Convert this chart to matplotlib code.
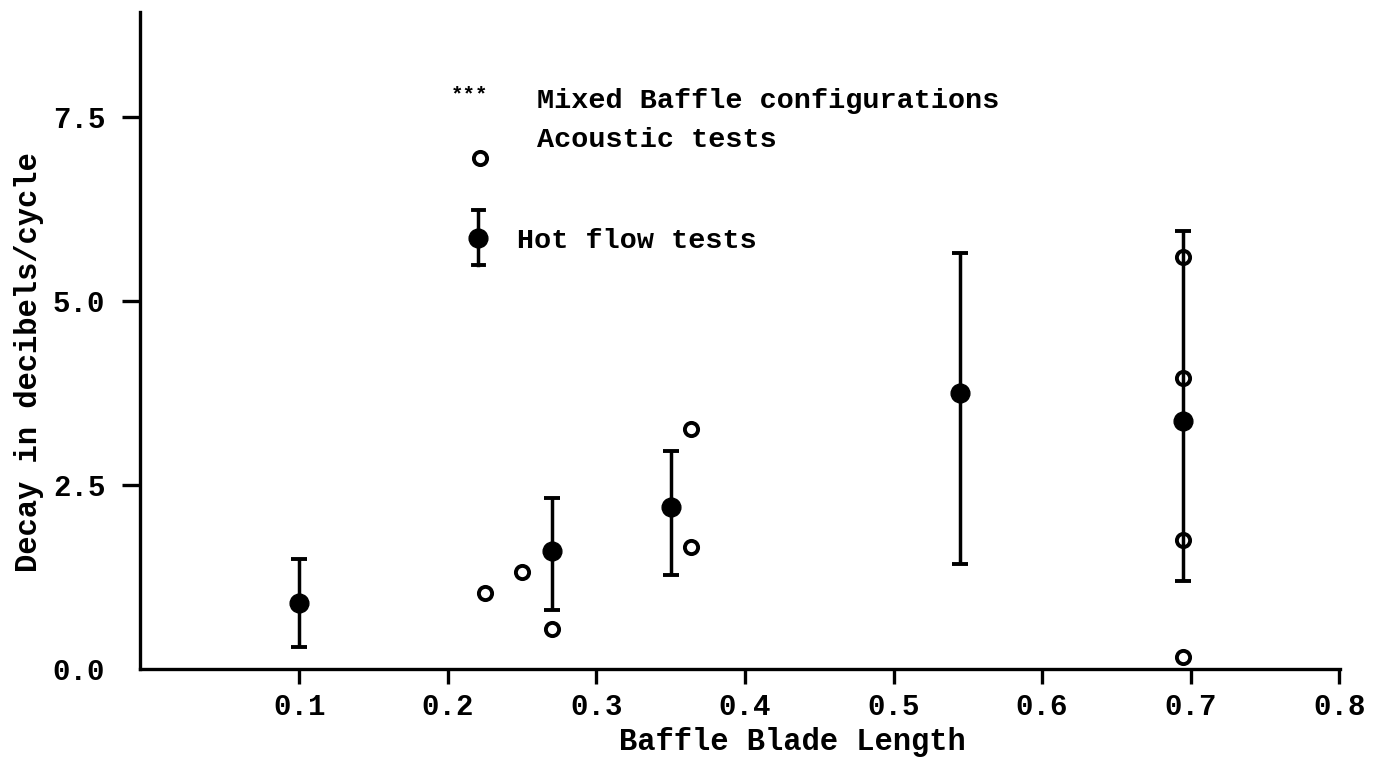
import matplotlib
matplotlib.use("Agg")
import matplotlib.pyplot as plt

# hot flow tests: mean decay with min/max range
hot_x = [0.10, 0.27, 0.35, 0.545, 0.695]
hot_y = [0.90, 1.60, 2.20, 3.75, 3.37]
hot_lo = [0.30, 0.80, 1.28, 1.43, 1.20]
hot_hi = [1.50, 2.32, 2.96, 5.65, 5.96]

# acoustic tests
acoustic_x = [0.225, 0.25, 0.27, 0.364, 0.364, 0.695, 0.695, 0.695, 0.695]
acoustic_y = [1.03, 1.32, 0.54, 3.26, 1.66, 5.60, 3.95, 1.76, 0.16]

x_ticks = [0.1, 0.2, 0.3, 0.4, 0.5, 0.6, 0.7, 0.8]
y_ticks = [0.0, 2.5, 5.0, 7.5]

legend_labels = ["Mixed Baffle configurations", "Acoustic tests", "Hot flow tests"]

plt.rcParams['font.family'] = ['Liberation Mono', 'DejaVu Sans Mono']
plt.rcParams['font.weight'] = 'bold'
plt.rcParams['axes.labelweight'] = 'bold'

fig = plt.figure(figsize=(13.75, 7.68), dpi=100)
ax = fig.add_axes([140 / 1375, 99 / 768, 1200 / 1375, 657 / 768])

yerr = [[y - lo for y, lo in zip(hot_y, hot_lo)],
        [hi - y for y, hi in zip(hot_y, hot_hi)]]
ax.errorbar(hot_x, hot_y, yerr=yerr, fmt='o', color='black', ms=13.5,
            elinewidth=2.5, capsize=6, capthick=2.8, zorder=3)
ax.plot(acoustic_x, acoustic_y, 'o', mfc='none', mec='black', ms=9.5,
        mew=2.8, zorder=4, clip_on=False)

ax.set_xlim(-0.0072, 0.8005)
ax.set_ylim(0, 8.93)

for side in ('top', 'right'):
    ax.spines[side].set_visible(False)
for side in ('left', 'bottom'):
    ax.spines[side].set_linewidth(2.4)

ax.set_xticks(x_ticks)
ax.set_xticklabels([f"{v:.1f}" for v in x_ticks])
ax.set_yticks(y_ticks)
ax.set_yticklabels([f"{v:.1f}" for v in y_ticks])
ax.tick_params(axis='both', direction='out', width=2.4, labelsize=21)
ax.tick_params(axis='x', length=11, pad=6)
ax.tick_params(axis='y', length=13, pad=12)
ax.yaxis.get_major_ticks()[0].tick1line.set_visible(False)

ax.set_xlabel("Baffle Blade Length", fontsize=22)
ax.xaxis.set_label_coords(0.544, -0.123)
ax.xaxis.label.set_va('baseline')
ax.set_ylabel("Decay in decibels/cycle", fontsize=22)
ax.yaxis.set_label_coords(-0.0925, 0.467)
ax.yaxis.label.set_va('center')

# hand-drawn legend, as in the original figure
tr = ax.transAxes
ax.text(0.275, 0.874, "***", transform=tr, ha='center', va='center', fontsize=15)
ax.text(0.331, 0.854, legend_labels[0], transform=tr, ha='left', va='baseline', fontsize=20.5)
ax.plot([0.283], [0.778], 'o', mfc='none', mec='black', ms=9.5, mew=2.8, transform=tr)
ax.text(0.331, 0.795, legend_labels[1], transform=tr, ha='left', va='baseline', fontsize=20.5)
ax.plot([0.282, 0.282], [0.615, 0.699], color='black', lw=2.5, transform=tr)
ax.plot([0.2775, 0.2865], [0.699, 0.699], color='black', lw=2.8, transform=tr)
ax.plot([0.2775, 0.2865], [0.615, 0.615], color='black', lw=2.8, transform=tr)
ax.plot([0.282], [0.656], 'o', color='black', ms=13.5, transform=tr)
ax.text(0.314, 0.641, legend_labels[2], transform=tr, ha='left', va='baseline', fontsize=20.5)

fig.savefig("out.png", dpi=100)
